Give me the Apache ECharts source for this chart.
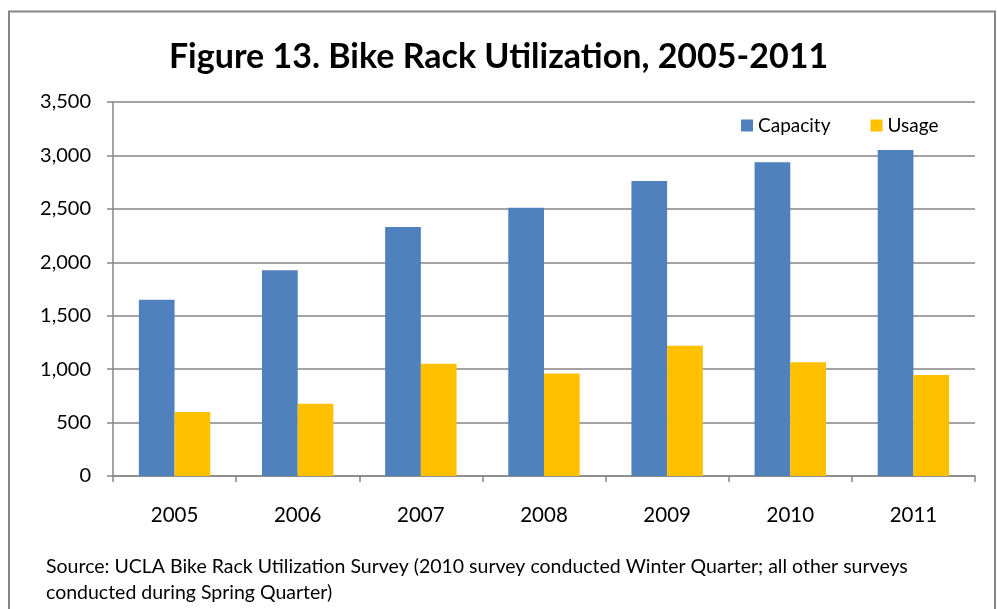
<!DOCTYPE html>
<html>
<head>
<meta charset="utf-8">
<script src="https://cdn.jsdelivr.net/npm/echarts@6/dist/echarts.min.js"></script>
<style>
  html, body { margin: 0; padding: 0; background: #fff; }
  #chart { width: 997px; height: 609px; }
</style>
</head>
<body>
<div id="chart"></div>
<script>
// data
var years = ['2005', '2006', '2007', '2008', '2009', '2010', '2011'];
var capacity = [1650, 1925, 2330, 2510, 2760, 2935, 3050];
var usage = [600, 675, 1050, 960, 1220, 1065, 945];
var yTicks = { min: 0, max: 3500, interval: 500 };

var font = 'Lato, "Open Sans", sans-serif';
var gray = '#868686';

var chart = echarts.init(document.getElementById('chart'));
var option = {
  backgroundColor: '#fff',
  animation: false,
  textStyle: { fontFamily: font, color: '#000' },
  title: [{
    text: 'Figure 13. Bike Rack Utilization, 2005-2011',
    left: 'center',
    top: 35,
    textStyle: { fontFamily: font, fontSize: 34, fontWeight: 'bold', color: '#000' }
  }, {
    text: 'Source: UCLA Bike Rack Utilization Survey (2010 survey conducted Winter Quarter; all other surveys\nconducted during Spring Quarter)',
    left: 41,
    top: 549,
    textStyle: { fontFamily: font, fontSize: 19.5, fontWeight: 'normal', color: '#000', lineHeight: 26 }
  }],
  legend: {
    data: ['Capacity', 'Usage'],
    left: 741,
    top: 116,
    padding: 0,
    icon: 'rect',
    itemWidth: 12,
    itemHeight: 12,
    itemGap: 40,
    textStyle: { fontFamily: font, fontSize: 19, color: '#000' }
  },
  grid: { left: 113, right: 22, top: 102, bottom: 133 },
  xAxis: {
    type: 'category',
    data: years,
    boundaryGap: true,
    axisLine: { lineStyle: { color: gray, width: 1.5 } },
    axisTick: { show: true, length: 6, lineStyle: { color: gray, width: 1.5 } },
    axisLabel: { color: '#000', fontSize: 20.5, fontFamily: font, margin: 29 }
  },
  yAxis: {
    type: 'value',
    min: yTicks.min,
    max: yTicks.max,
    interval: yTicks.interval,
    axisLine: { show: true, lineStyle: { color: gray, width: 1.5 } },
    axisTick: { show: true, length: 6, lineStyle: { color: gray, width: 1.5 } },
    splitLine: { lineStyle: { color: gray, width: 1.5 } },
    axisLabel: {
      color: '#000', fontSize: 20, fontFamily: font, margin: 22,
      formatter: function (v) { return v.toLocaleString('en-US'); }
    }
  },
  series: [{
    name: 'Capacity',
    type: 'bar',
    data: capacity,
    barGap: '0%',
    barCategoryGap: '42%',
    itemStyle: { color: '#4F81BD' }
  }, {
    name: 'Usage',
    type: 'bar',
    data: usage,
    itemStyle: { color: '#FFC000' }
  }],
  graphic: [{
    type: 'rect',
    shape: { x: 9, y: 11.5, width: 986, height: 620 },
    style: { fill: 'none', stroke: gray, lineWidth: 2 },
    silent: true,
    z: -1
  }]
};
chart.setOption(option);
</script>
</body>
</html>
